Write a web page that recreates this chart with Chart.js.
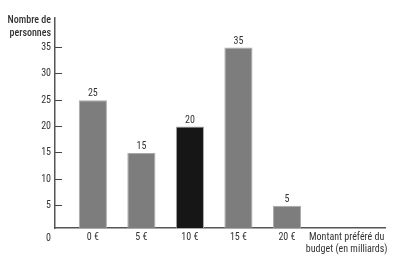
<!DOCTYPE html>
<html><head><meta charset="utf-8">
<script src="https://cdn.jsdelivr.net/npm/chart.js@4/dist/chart.umd.min.js"></script>
<style>html,body{margin:0;padding:0;background:#fff}#wrap{width:400px;height:264px}</style>
</head><body><div id="wrap"><canvas id="c" width="400" height="264"></canvas></div>
<script>
const categories = ['0 €', '5 €', '10 €', '15 €', '20 €'];
const values = [25, 15, 20, 35, 5];
const barColors = ['#7d7d7d', '#7d7d7d', '#161616', '#7d7d7d', '#7d7d7d'];
const yTicks = [0, 5, 10, 15, 20, 25, 30, 35];
const xAxisTitle = ['Montant préféré du', 'budget (en milliards)'];
const yAxisTitle = ['Nombre de', 'personnes'];

const FONT = "Roboto, sans-serif";
const TXT = '#333';

const labelsPlugin = {
  id: 'labelsPlugin',
  afterDatasetsDraw(chart) {
    const ctx = chart.ctx;
    const meta = chart.getDatasetMeta(0);
    ctx.save();
    ctx.fillStyle = TXT;
    ctx.font = 'normal condensed 10px ' + FONT;
    ctx.textAlign = 'center';
    ctx.textBaseline = 'alphabetic';
    meta.data.forEach((bar, i) => {
      ctx.fillText(String(values[i]), bar.x, bar.y - 4);
    });
    const ya = chart.scales.y;
    ctx.font = '500 condensed 10px ' + FONT;
    ctx.textAlign = 'right';
    ctx.textBaseline = 'middle';
    ctx.fillText(yAxisTitle[0], ya.right - 4, chart.chartArea.top + 2);
    ctx.fillText(yAxisTitle[1], ya.right - 4, chart.chartArea.top + 15);
    ctx.restore();
  }
};

const titleTick = categories.length + 0.23;

new Chart(document.getElementById('c'), {
  type: 'bar',
  data: {
    datasets: [{
      data: values.map((v, i) => ({x: i, y: v})),
      backgroundColor: barColors,
      borderColor: '#a9a9a9',
      borderWidth: 1,
      categoryPercentage: 1,
      barPercentage: 0.58
    }]
  },
  options: {
    responsive: false,
    animation: false,
    devicePixelRatio: 1,
    layout: {padding: {left: 0, right: 15, top: 18, bottom: 0}},
    plugins: {legend: {display: false}, tooltip: {enabled: false}},
    scales: {
      x: {
        type: 'linear',
        offset: false,
        min: -0.78,
        max: 6.02,
        afterBuildTicks(scale) {
          scale.ticks = categories.map((c, i) => ({value: i})).concat([{value: titleTick}]);
        },
        afterFit(scale) { scale.height = 36; },
        ticks: {
          autoSkip: false,
          maxRotation: 0,
          padding: 3,
          color: TXT,
          font: {family: FONT, size: 10, weight: 'condensed'},
          callback: (v, i) => i < categories.length ? categories[i] : xAxisTitle
        },
        grid: {display: true, drawOnChartArea: false, drawTicks: false},
        border: {display: true, color: '#555', width: 1.5}
      },
      y: {
        type: 'linear',
        min: 0.76,
        max: 40.6,
        afterBuildTicks(scale) {
          scale.ticks = yTicks.map(v => ({value: v}));
        },
        afterFit(scale) { scale.width = 55; },
        ticks: {
          autoSkip: false,
          padding: 11,
          color: TXT,
          font: {family: FONT, size: 10, weight: 'condensed'},
          callback: (v) => v === 0 ? ['', String(v)] : String(v)
        },
        grid: {
          display: true,
          drawOnChartArea: false,
          drawTicks: true,
          tickLength: -7,
          tickWidth: 1,
          tickColor: (ctx) => (ctx.tick && ctx.tick.value === 0) ? 'rgba(0,0,0,0)' : '#444'
        },
        border: {display: true, color: '#555', width: 1.5}
      }
    }
  },
  plugins: [labelsPlugin]
});
</script>
</body></html>
